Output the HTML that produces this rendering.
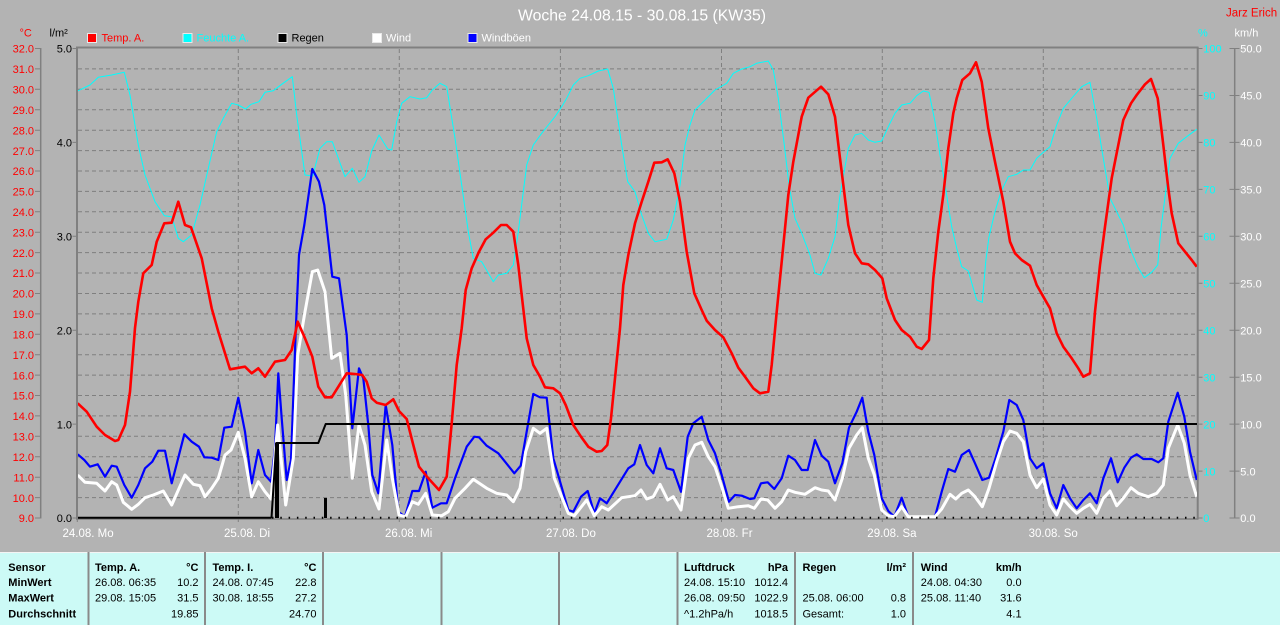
<!DOCTYPE html>
<html><head><meta charset="utf-8"><style>
html,body{margin:0;padding:0;width:1280px;height:625px;overflow:hidden;background:#b3b3b3}
svg{display:block}
text{font-family:"Liberation Sans",Arial,sans-serif}
</style></head><body>
<svg width="1280" height="625" viewBox="0 0 1280 625" xmlns="http://www.w3.org/2000/svg">
<rect x="0" y="0" width="1280" height="625" fill="#b3b3b3"/>
<!-- title -->
<text x="518" y="20.5" font-size="16" fill="#ffffff" textLength="248" lengthAdjust="spacingAndGlyphs">Woche 24.08.15 - 30.08.15 (KW35)</text>
<text x="1226" y="16.5" font-size="11.5" fill="#ff0000">Jarz Erich</text>
<!-- axis headers -->
<text x="19.5" y="36.5" font-size="11" fill="#ff0000">°C</text>
<text x="49.5" y="36.5" font-size="11" fill="#000000">l/m²</text>
<text x="1198" y="36.5" font-size="11" fill="#00ffff">%</text>
<text x="1234.5" y="36.5" font-size="11" fill="#ffffff">km/h</text>
<!-- legend -->
<g font-size="11">
<rect x="87.5" y="33.5" width="9" height="9" fill="#ff0000" stroke="#e8e8e8" stroke-width="1"/>
<text x="101.5" y="41.5" fill="#ff0000">Temp. A.</text>
<rect x="183" y="33.5" width="9" height="9" fill="#00ffff" stroke="#e8e8e8" stroke-width="1"/>
<text x="196.5" y="41.5" fill="#00ffff">Feuchte A.</text>
<rect x="278" y="33.5" width="9" height="9" fill="#000000" stroke="#e8e8e8" stroke-width="1"/>
<text x="291.5" y="41.5" fill="#000000">Regen</text>
<rect x="372.5" y="33.5" width="9" height="9" fill="#ffffff" stroke="#e8e8e8" stroke-width="1"/>
<text x="386" y="41.5" fill="#ffffff">Wind</text>
<rect x="468" y="33.5" width="9" height="9" fill="#0000ff" stroke="#e8e8e8" stroke-width="1"/>
<text x="481.5" y="41.5" fill="#ffffff">Windböen</text>
</g>
<!-- grid -->
<g stroke="#7f7f7f" stroke-width="1" stroke-dasharray="4 3" fill="none">
<path d="M78 497.6H1196M78 477.2H1196M78 456.8H1196M78 436.3H1196M78 415.9H1196M78 395.5H1196M78 375.1H1196M78 354.7H1196M78 334.3H1196M78 313.9H1196M78 293.5H1196M78 273H1196M78 252.6H1196M78 232.2H1196M78 211.8H1196M78 191.4H1196M78 171H1196M78 150.6H1196M78 130.2H1196M78 109.7H1196M78 89.3H1196M78 68.9H1196"/>
<path d="M238.3 49V517M399.3 49V517M560.4 49V517M721.5 49V517M882.3 49V517M1043.3 49V517"/>
</g>
<!-- frame -->
<g stroke="#808080" fill="none">
<path d="M76 47.5H1198.5" stroke-width="2"/>
<path d="M77 47V519" stroke-width="2"/>
<path d="M1197.7 47V519" stroke-width="2"/>
<path d="M76 519H1198.5" stroke-width="1.5"/>
<!-- left red axis -->
<path d="M40.7 48V518.5" stroke-width="1.5"/>
<path d="M35 48.5H40.7M35 68.9H40.7M35 89.3H40.7M35 109.7H40.7M35 130.2H40.7M35 150.6H40.7M35 171H40.7M35 191.4H40.7M35 211.8H40.7M35 232.2H40.7M35 252.6H40.7M35 273H40.7M35 293.5H40.7M35 313.9H40.7M35 334.3H40.7M35 354.7H40.7M35 375.1H40.7M35 395.5H40.7M35 415.9H40.7M35 436.3H40.7M35 456.8H40.7M35 477.2H40.7M35 497.6H40.7M35 518H40.7" stroke-width="1"/>
<!-- black axis ticks -->
<path d="M72.5 48.5H77M72.5 142.4H77M72.5 236.3H77M72.5 330.2H77M72.5 424.1H77M72.5 518H77" stroke-width="1"/>
<!-- right cyan ticks -->
<path d="M1198 48.5H1202.5M1198 95.5H1202.5M1198 142.4H1202.5M1198 189.4H1202.5M1198 236.3H1202.5M1198 283.3H1202.5M1198 330.2H1202.5M1198 377.2H1202.5M1198 424.1H1202.5M1198 471.1H1202.5M1198 518H1202.5" stroke-width="1"/>
<!-- km/h axis -->
<path d="M1234.7 48V518.5" stroke-width="1.5"/>
<path d="M1229.5 48.5H1239.5M1229.5 95.5H1239.5M1229.5 142.4H1239.5M1229.5 189.4H1239.5M1229.5 236.3H1239.5M1229.5 283.3H1239.5M1229.5 330.2H1239.5M1229.5 377.2H1239.5M1229.5 424.1H1239.5M1229.5 471.1H1239.5M1229.5 518H1239.5" stroke-width="1"/>
<!-- day ticks -->
<path d="M77.3 518V522M238.3 518V522M399.3 518V522M560.4 518V522M721.5 518V522M882.3 518V522M1043.3 518V522" stroke-width="1"/>
</g>
<!-- left labels -->
<g font-size="11" fill="#ff0000" text-anchor="end">
<text x="34" y="52.7">32.0</text><text x="34" y="73.1">31.0</text><text x="34" y="93.5">30.0</text><text x="34" y="113.9">29.0</text><text x="34" y="134.4">28.0</text><text x="34" y="154.8">27.0</text><text x="34" y="175.2">26.0</text><text x="34" y="195.6">25.0</text><text x="34" y="216">24.0</text><text x="34" y="236.4">23.0</text><text x="34" y="256.8">22.0</text><text x="34" y="277.2">21.0</text><text x="34" y="297.7">20.0</text><text x="34" y="318.1">19.0</text><text x="34" y="338.5">18.0</text><text x="34" y="358.9">17.0</text><text x="34" y="379.3">16.0</text><text x="34" y="399.7">15.0</text><text x="34" y="420.1">14.0</text><text x="34" y="440.5">13.0</text><text x="34" y="461">12.0</text><text x="34" y="481.4">11.0</text><text x="34" y="501.8">10.0</text><text x="34" y="522.2">9.0</text>
</g>
<g font-size="11" fill="#000000" text-anchor="end">
<text x="72" y="52.7">5.0</text><text x="72" y="146.6">4.0</text><text x="72" y="240.5">3.0</text><text x="72" y="334.4">2.0</text><text x="72" y="428.3">1.0</text><text x="72" y="522.2">0.0</text>
</g>
<g font-size="11" fill="#00ffff">
<text x="1203.3" y="52.7">100</text><text x="1203.3" y="99.7">90</text><text x="1203.3" y="146.6">80</text><text x="1203.3" y="193.6">70</text><text x="1203.3" y="240.5">60</text><text x="1203.3" y="287.5">50</text><text x="1203.3" y="334.4">40</text><text x="1203.3" y="381.4">30</text><text x="1203.3" y="428.3">20</text><text x="1203.3" y="475.3">10</text><text x="1203.3" y="522.2">0</text>
</g>
<g font-size="11" fill="#ffffff">
<text x="1240.3" y="52.7">50.0</text><text x="1240.3" y="99.7">45.0</text><text x="1240.3" y="146.6">40.0</text><text x="1240.3" y="193.6">35.0</text><text x="1240.3" y="240.5">30.0</text><text x="1240.3" y="287.5">25.0</text><text x="1240.3" y="334.4">20.0</text><text x="1240.3" y="381.4">15.0</text><text x="1240.3" y="428.3">10.0</text><text x="1240.3" y="475.3">5.0</text><text x="1240.3" y="522.2">0.0</text>
</g>
<!-- x labels -->
<g font-size="11.5" fill="#ffffff">
<text x="62.5" y="537">24.08. Mo</text>
<text x="224" y="537">25.08. Di</text>
<text x="385" y="537">26.08. Mi</text>
<text x="546" y="537">27.08. Do</text>
<text x="706.5" y="537">28.08. Fr</text>
<text x="867.3" y="537">29.08. Sa</text>
<text x="1028.6" y="537">30.08. So</text>
</g>
<defs><clipPath id="pc"><rect x="78" y="48.5" width="1119" height="471"/></clipPath></defs>
<g clip-path="url(#pc)" fill="none" stroke-linejoin="round">
<!-- humidity -->
<polyline stroke="#00ffff" stroke-width="1" points="77.7,91 90,85 98.3,77.3 111.7,75 124.3,72.3 130,95 138.3,145 145,175 155,201.7 164.3,215.7 171.7,216.7 178.3,238.3 183.3,241.7 191.7,235 200,205 208.3,168.3 216.7,131.7 223.3,118.3 231.7,103.3 238.3,105 245.7,109 251,104.3 259,101.7 265,92.3 273.3,90.7 281.7,84.3 292.3,76.7 296.7,115 305,175 312.7,176 320,148.3 326.7,141.7 332.3,141.7 345,176.7 352.3,168.3 359,182.3 365,176.7 371.7,151 379,135 387.7,149 391.7,150 396.7,121.7 401.7,103.3 410,96.7 420,99 426.7,97.7 432.3,90 440,83.3 446.7,86.7 455,138.3 461.7,185 468.3,231.7 473.3,258.3 481.7,261.7 493.3,281.7 498.3,275 506.7,273.3 513.3,265 518.3,231.7 523.3,191.7 526.7,165 533.3,145 541.7,133.3 548.3,125 555,116.7 561.7,106.7 566.7,98.3 573.3,85 580,78.3 588.3,75.7 598.3,71 607.7,69 613.3,88.3 621.7,145 627.7,181.7 635,191.7 641.7,215 648.3,233.3 655,241.7 666.7,239.3 673.3,220 680,185 685,145 690,125 695,110 705,100 715,90 726.7,83.3 733.3,73.3 741.7,69 750,66.7 756.7,63.3 768.3,61 773.3,70 778.3,98.3 784.3,145 789,185 795,218.3 801.7,233.3 810,255 815,273.3 821,275 828.3,258.3 835,236.7 840,195 848.3,148.3 855,135 861.7,133.3 868.3,140 875,142.3 881.7,141 888.3,126.7 895,113.3 901.7,105 910,103.3 916.7,95.7 923.3,91 929,92.3 935,121.7 940,155 945,185 951.7,226.7 956.7,248.3 961.7,266.7 968.3,271 973.3,288.3 976.7,300 982.3,302.3 985.7,261.7 989,236.7 995,211.7 1001,191.7 1008.3,176.7 1016.7,174.3 1023.3,170 1030,170 1036.7,158.3 1043.3,152.3 1050,146.7 1056.7,125 1063.3,108.3 1071.7,98.3 1081.7,86.7 1090,82.3 1096.7,118.3 1103.3,158.3 1110,198.3 1116.7,211.7 1123.3,225 1130,248.3 1137.7,266.7 1144.3,277.7 1151.7,272.3 1157.7,265 1161,228.3 1165.7,191.7 1170,158.3 1178.3,143.3 1186.7,136.7 1196.7,129.3"/>
<!-- gusts -->
<polyline stroke="#0000ff" stroke-width="2.2" points="77.7,454.3 84.3,460 90,466.7 97.7,464.3 105,476.7 111.7,465.7 116.7,466.7 124.3,485 131.7,497.7 138.3,485 145,468.3 152.3,461.7 158.3,450.7 165,450.7 171.7,483.3 184.3,434.3 191.7,441.7 199,446.7 204.3,457.3 211.7,457.7 218.3,460 224.3,427.7 231.7,426.7 238.3,397.7 245,431.7 251.7,483.3 258.3,450 265,475 271,481.7 275,448.3 278.3,373.3 281.7,418.3 286.7,480 291,460 295.7,331.7 299,255 304.3,225 312.3,169 319,181.7 324.3,205 332.3,276.7 339,278.3 346.7,335 352.3,428.3 359,368.3 363.3,378.3 368.3,425 372.3,475 378.3,493.3 385.7,405 392.3,445 398.3,511.7 405,516.7 412.3,491 419,491 425.7,471.7 432.3,507.7 441,503.3 446.7,503.3 455,478.3 466.7,446.7 474.3,436.7 479,437.3 486.7,445.7 498.3,453.3 514.3,473.3 520.7,465.7 533.3,394 540,397.3 546.7,397.7 553.3,458.3 568.3,510 573.3,511.7 581,496.7 587.7,491 594.3,513.3 600,498.3 606.7,503.3 628.3,468.3 634.3,464.3 640,445 646.7,465 653.3,473.3 660,448.3 666.7,468.3 673.3,470 681,491.7 687.7,436.7 693.3,423.3 701.7,416.7 708.3,440 715,453.3 721.7,475 729,501.7 735,495 741.7,495.7 750,499 754.3,498.3 761,483.3 767.7,482.3 774.3,489 781.7,478.3 788.3,455.7 795,460 801.7,470 807.7,470 815,440 821.7,455.7 828.3,461.7 835,483.3 842.3,463.3 849,427.7 856.7,411.7 862.3,397.7 868.3,431.7 874.3,455 881.7,498.3 888.3,511 894.3,516.7 901.7,497.7 908.3,516.7 935,516.7 941.7,491.7 948.3,469 955,471.7 961.7,455 969,450 975,463.3 982.3,480 989,477.7 995,460 1003.3,431.7 1009.3,400 1016.7,405 1023.3,420 1030,458.3 1036.7,468.3 1043.3,463.3 1050,493.3 1056.7,508.3 1063.3,485 1070,498.3 1076.7,508.3 1083.3,500 1090,493.3 1096.7,503.3 1103.3,478.3 1111,458.3 1117.7,482.3 1124.3,467.7 1131,457.7 1136.7,454.3 1143.3,459 1151.7,459 1158.3,462.3 1163.3,458.3 1168.3,421.7 1177.7,392.7 1184.3,416.7 1190,451.7 1196.7,480"/>
<!-- wind -->
<polyline stroke="#ffffff" stroke-width="3" points="77.7,475 85,482.3 96.7,483.3 105,491 111.7,481.7 116.7,485 123.3,502.3 131.7,509.3 138.3,504.3 145,497.7 153.3,495 163.3,491 171.7,505 185,475 193.3,484.3 200,485.7 205,496.7 211.7,488.3 218.3,478.3 225,455 231,450 238.3,432.3 245,458.3 251.7,496.7 258.3,481.7 265,491.7 271,499 277.7,425 285.7,505 293.3,458.3 297.7,355 305,311.7 312.3,271.7 317.7,270 325,291.7 331.7,358.3 340,353.3 345.7,395 352.3,478.3 359,425 365,445 371.7,491.7 379,509 386.7,440 392.3,478.3 399,515 405.7,516.7 412.3,501.7 418.3,504.3 425.7,493.3 432.3,515 441.7,515.7 448.3,511.7 455,498.3 465,488.3 473.3,479.3 486.7,488.3 496.7,493.3 506.7,495 513.3,501.7 520,488.3 525.7,451.7 533.3,428.3 540,433.3 546.7,428.3 554.3,478.3 568.3,513.3 574.3,515.7 586.7,500 594.3,515.7 601.7,506.7 608.3,510 621.7,497.7 635,495.7 641,490 646.7,499 653.3,496.7 660,484.3 667.7,500 673.3,496.7 681,510 688.3,458.3 695,445 701.7,442.3 708.3,456.7 715,466.7 721.7,486.7 728.3,508.3 738.3,506.7 748.3,505.7 754.3,508.3 761,499 767.7,500 775,508.3 781.7,501.7 788.3,490 795,492.3 805,494.3 815,487.7 821.7,490 828.3,491 835,500 842.3,478.3 849,448.3 856.7,435 862.3,427.7 868.3,458.3 874.3,475 881.7,510 888.3,515.7 894.3,516.7 901.7,506.7 908.3,516.7 935,516.7 941.7,509 950,494.3 955.7,499 961.7,493.3 968.3,490 975,496.7 982.3,506.7 989,488.3 996.7,461.7 1003.3,441.7 1010,431 1016.7,433.3 1023.3,441.7 1030,475 1036.7,487.7 1043.3,479 1050,505 1056.7,515 1063.3,499 1070,506.7 1076.7,513.3 1083.3,508.3 1090,504.3 1096.7,513.3 1103.3,498.3 1110,491 1116.7,505.7 1123.3,498.3 1131,487.7 1138.3,493.3 1148.3,496.7 1156.7,493.3 1163.3,485 1168.3,448.3 1177.7,425 1184.3,443.3 1190,475 1196.7,496.7"/>
<!-- rain -->
<path d="M78 517.8H271.5" stroke="#000" stroke-width="2"/>
<path d="M272 517.8H1197" stroke="#000" stroke-width="2" stroke-dasharray="1.5 6.8"/>
<polyline stroke="#000" stroke-width="2" points="271.5,518 276.3,443 318.3,443 325.7,424 1197,424"/>
<rect x="275" y="443" width="4" height="75" fill="#000"/>
<rect x="324" y="498" width="3" height="20" fill="#000"/>
<!-- temperature -->
<polyline stroke="#ff0000" stroke-width="2.6" points="77.7,403.3 86.7,411.7 96.7,426.7 105,435 115,441 118.3,440 125,425 130,391.7 135,328 138.3,301.7 143.3,273.3 151.7,265 156.7,241.7 164.3,223.3 171.7,222.7 178.3,201.7 185,225 191,227.3 201.7,258.3 211.7,308.3 218.3,331.7 230,369.3 245,366.7 251.7,373.3 258.3,368.3 265,376.7 275,361.7 285,360 291.7,350 297.7,321.7 305,338.3 312.3,356.7 318.3,386.7 325,397.3 331.7,397.3 346.7,373.3 355,374 362.3,375 366.7,381.7 371.7,398.3 376.7,402.7 385.7,405 393.3,399.3 399,411 406.7,419 413.3,445 419,466.7 428.3,478.3 439,490 446.7,476.7 451.7,423.3 456.7,365 461.7,328.3 465.7,290 471.7,268.3 479,251.7 485.7,239.3 493.3,232.7 501,225 506.7,225 513.3,231.7 518.3,265 521.7,295 526.7,338.3 533.3,365 540,376.7 545,387.3 553.3,388.3 560,393.3 565.7,405 573.3,425 581,436.7 588.3,446.7 596.7,451.7 601.7,451 607.3,445 611,418.3 615,378.3 620,328.3 623.3,285 628.3,255 635,223.3 641.7,201.7 648.3,181.7 654.3,162.7 661.7,162.3 667.7,159.3 674.3,173.3 680,201.7 686.7,251.7 694.3,293.3 701.7,310 706.7,320.7 715,330 723.3,337.3 731.7,353.3 738.3,367.7 745,376.7 753.3,388.3 760,393.3 768.3,391.7 771.7,365 776.7,311.7 781.7,261.7 788.3,195 793.3,161.7 801.7,116.7 808.3,97.7 821,86.7 828.3,94.3 835,116.7 840,158.3 848.3,225 855,253.3 861.7,263.3 868.3,264.3 875,270 882.3,278.3 886.7,298.3 895,320 901.7,330 910,336.7 916.7,346.7 921.7,349 929,340 933.3,278.3 938.3,231.7 943.3,195 948.3,148.3 953.3,113.3 956.7,98.3 962.3,80 970,73.3 976,62.3 981.7,81.7 988.3,128.3 995,161.7 1003.3,201.7 1010,241.7 1015,253.3 1021.7,260 1030,265.7 1036.7,285 1043.3,296.7 1050,308.3 1056.7,333.3 1063.3,346.7 1071.7,358.3 1078.3,368.3 1083.3,376.7 1090,373.3 1095,311.7 1100,265 1105,226.7 1111.7,178.3 1118.3,145 1123.3,120 1131,103.3 1136.7,95 1145,84.3 1151,79 1157.7,98.3 1163.3,145 1168.3,188.3 1171.7,213.3 1178.3,243.3 1185,251.7 1191.7,260 1196.7,266.7"/>
</g>
<!-- table -->
<rect x="0" y="552" width="1280" height="73" fill="#ccfaf6"/>
<path d="M0 552.5H1280" stroke="#f4f4f4" stroke-width="1"/>
<g stroke="#8a8a8a" stroke-width="2">
<path d="M88.5 552V625M205 552V625M323 552V625M441.5 552V625M559 552V625M677.5 552V625M795 552V625M913 552V625"/>
</g>
<g font-size="11" fill="#000000">
<g font-weight="bold">
<text x="8.3" y="571">Sensor</text>
<text x="8.3" y="586">MinWert</text>
<text x="8.3" y="601.7">MaxWert</text>
<text x="8.3" y="617.5">Durchschnitt</text>
<text x="95" y="571">Temp. A.</text>
<text x="198.5" y="571" text-anchor="end">°C</text>
<text x="212.5" y="571">Temp. I.</text>
<text x="316.5" y="571" text-anchor="end">°C</text>
<text x="684" y="571">Luftdruck</text>
<text x="788" y="571" text-anchor="end">hPa</text>
<text x="802.5" y="571">Regen</text>
<text x="906" y="571" text-anchor="end">l/m²</text>
<text x="920.8" y="571">Wind</text>
<text x="1021.6" y="571" text-anchor="end">km/h</text>
</g>
<text x="95" y="586">26.08.  06:35</text>
<text x="198.5" y="586" text-anchor="end">10.2</text>
<text x="95" y="601.7">29.08.  15:05</text>
<text x="198.5" y="601.7" text-anchor="end">31.5</text>
<text x="198.5" y="617.5" text-anchor="end">19.85</text>
<text x="212.5" y="586">24.08.  07:45</text>
<text x="316.5" y="586" text-anchor="end">22.8</text>
<text x="212.5" y="601.7">30.08.  18:55</text>
<text x="316.5" y="601.7" text-anchor="end">27.2</text>
<text x="316.5" y="617.5" text-anchor="end">24.70</text>
<text x="684" y="586">24.08.  15:10</text>
<text x="788" y="586" text-anchor="end">1012.4</text>
<text x="684" y="601.7">26.08.  09:50</text>
<text x="788" y="601.7" text-anchor="end">1022.9</text>
<text x="684" y="617.5">^1.2hPa/h</text>
<text x="788" y="617.5" text-anchor="end">1018.5</text>
<text x="802.5" y="601.7">25.08.  06:00</text>
<text x="906" y="601.7" text-anchor="end">0.8</text>
<text x="802.5" y="617.5">Gesamt:</text>
<text x="906" y="617.5" text-anchor="end">1.0</text>
<text x="920.8" y="586">24.08.  04:30</text>
<text x="1021.6" y="586" text-anchor="end">0.0</text>
<text x="920.8" y="601.7">25.08.  11:40</text>
<text x="1021.6" y="601.7" text-anchor="end">31.6</text>
<text x="1021.6" y="617.5" text-anchor="end">4.1</text>
</g>
</svg>
</body></html>
